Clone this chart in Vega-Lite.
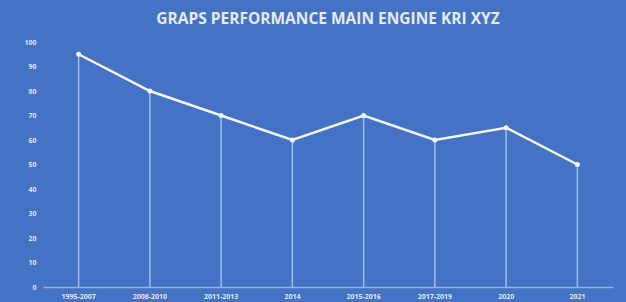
{
  "$schema": "https://vega.github.io/schema/vega-lite/v6.json",
  "autosize": "none",
  "width": 570,
  "height": 245,
  "padding": {"left": 43, "top": 42, "right": 13, "bottom": 15},
  "background": "#4472C4",
  "config": {
    "view": {"stroke": null},
    "font": "Open Sans"
  },
  "title": {
    "text": "GRAPS PERFORMANCE MAIN ENGINE KRI XYZ",
    "fontSize": 15.5,
    "fontWeight": "bold",
    "color": "#e6ebf4",
    "font": "Open Sans",
    "offset": 11,
    "anchor": "middle"
  },
  "data": {
    "values": [
      {"period": "1995-2007", "value": 95},
      {"period": "2008-2010", "value": 80},
      {"period": "2011-2013", "value": 70},
      {"period": "2014", "value": 60},
      {"period": "2015-2016", "value": 70},
      {"period": "2017-2019", "value": 60},
      {"period": "2020", "value": 65},
      {"period": "2021", "value": 50}
    ]
  },
  "encoding": {
    "x": {
      "field": "period",
      "type": "ordinal",
      "sort": null,
      "scale": {"type": "band", "paddingInner": 0, "paddingOuter": 0},
      "axis": {
        "title": null,
        "labelAngle": 0,
        "labelFontSize": 7,
        "labelFontWeight": "bold",
        "labelColor": "#dfe6f3",
        "labelPadding": 5,
        "ticks": false,
        "domainColor": "#8fb0e6",
        "domainWidth": 1.5
      }
    },
    "y": {
      "field": "value",
      "type": "quantitative",
      "scale": {"domain": [0, 100]},
      "axis": {
        "title": null,
        "values": [0, 10, 20, 30, 40, 50, 60, 70, 80, 90, 100],
        "grid": false,
        "domain": false,
        "ticks": false,
        "labelOverlap": false,
        "labelFontSize": 7,
        "labelFontWeight": "bold",
        "labelColor": "#dfe6f3",
        "labelPadding": 7
      }
    }
  },
  "layer": [
    {
      "mark": {"type": "rule", "color": "#a9c3ee", "strokeWidth": 1.5, "opacity": 0.9},
      "encoding": {
        "y2": {"datum": 0}
      }
    },
    {
      "mark": {"type": "line", "color": "#f4f6fa", "strokeWidth": 2.5, "point": {"filled": true, "color": "#f4f6fa", "size": 25}},
      "encoding": {}
    }
  ]
}
